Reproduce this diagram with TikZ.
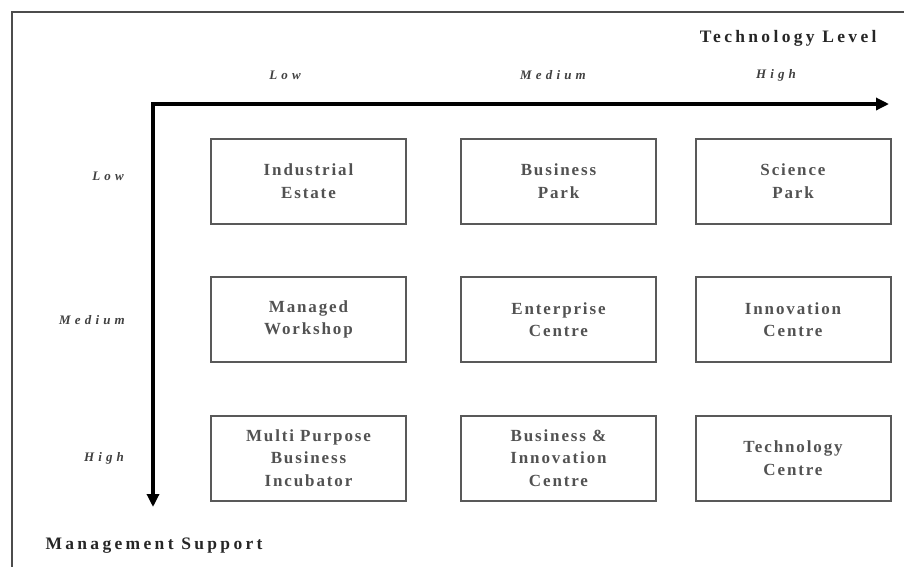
\documentclass[tikz,border=0pt]{standalone}
\usepackage{fontspec}
\setmainfont{Liberation Serif}
\newfontfamily\boxfont[LetterSpace=11]{Liberation Serif}
\newfontfamily\headfont[LetterSpace=19]{Liberation Serif}
\newfontfamily\axfont[LetterSpace=32]{Liberation Serif}
\usetikzlibrary{arrows.meta,calc}
\begin{document}
\begin{tikzpicture}[x=1pt,y=-1pt,
  cell/.style={draw=black!65,line width=2pt,minimum width=195pt,minimum height=85pt,inner sep=0pt,align=center,
    font=\boxfont\bfseries\fontsize{17}{22.5}\selectfont,text=black!68},
  axlab/.style={font=\axfont\bfseries\itshape\fontsize{13}{15}\selectfont,text=black!75},
  head/.style={font=\headfont\bfseries\fontsize{17.5}{20}\selectfont,text=black!85},
  axis/.style={line width=3.2pt,-{Triangle[length=13pt,width=12pt]}}]
\useasboundingbox (0,0) rectangle (904,566);
\draw[black!70,line width=2pt] (12,580) -- (12,12) -- (920,12);
\coordinate (o) at (153,104);
\coordinate (xe) at (889,104);
\coordinate (ye) at (153,507);
\draw[axis] ($(o)+(-1.6,0)$) -- (xe);
\draw[axis] (o) -- (ye);
\node[head,anchor=east] (tl) at (880,38) {Technology Level};
\node[head,anchor=west] (ms) at (42,546) {Management Support};
\node[axlab] (cl) at (285,75) {Low};
\node[axlab] (cm) at (553,75) {Medium};
\node[axlab] (ch) at (776,75) {High};
\node[axlab] (rl) at (108,176) {Low};
\node[axlab] (rm) at (92,320) {Medium};
\node[axlab] (rh) at (104,458) {High};
\node[cell] (c11) at (308.5,181) {Industrial\\Estate};
\node[cell] (c12) at (558.5,181) {Business\\Park};
\node[cell] (c13) at (793,181) {Science\\Park};
\node[cell] (c21) at (308.5,319.5) {Managed\\Workshop};
\node[cell] (c22) at (558.5,319.5) {Enterprise\\Centre};
\node[cell] (c23) at (793,319.5) {Innovation\\Centre};
\node[cell] (c31) at (308.5,458) {Multi Purpose\\Business\\Incubator};
\node[cell] (c32) at (558.5,458) {Business \&\\Innovation\\Centre};
\node[cell] (c33) at (793,458) {Technology\\Centre};
\end{tikzpicture}
\end{document}
